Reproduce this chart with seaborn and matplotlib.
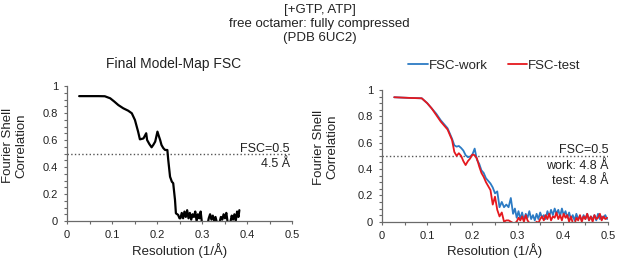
import pandas as pd
import matplotlib
matplotlib.use("Agg")
import matplotlib.pyplot as plt
from matplotlib.ticker import MultipleLocator
import seaborn as sns

sns.set_theme(style="ticks")
plt.rcParams['font.family'] = ['Liberation Sans', 'DejaVu Sans']

# Final model-map FSC (left panel)
map_res = [0.027, 0.05, 0.07, 0.084, 0.096, 0.105, 0.114, 0.125, 0.136, 0.144, 0.151,
           0.158, 0.162, 0.166, 0.170, 0.176, 0.178, 0.183, 0.188, 0.192, 0.196, 0.201,
           0.204, 0.207, 0.210, 0.214, 0.218, 0.223, 0.225, 0.229, 0.233, 0.236, 0.240,
           0.242, 0.247, 0.250,
           0.252, 0.255, 0.258, 0.261, 0.264, 0.267, 0.270, 0.273, 0.276, 0.279, 0.282,
           0.285, 0.288, 0.291, 0.294, 0.297, 0.300, 0.303, 0.306, 0.309, 0.312, 0.315,
           0.318, 0.321, 0.324, 0.327, 0.330, 0.333, 0.336, 0.339, 0.342, 0.345, 0.348,
           0.351, 0.354, 0.357, 0.360, 0.363, 0.366, 0.369, 0.372, 0.375, 0.378, 0.381,
           0.383]
map_fsc = [0.925, 0.925, 0.925, 0.924, 0.909, 0.885, 0.859, 0.835, 0.817, 0.798, 0.748,
           0.662, 0.605, 0.608, 0.612, 0.650, 0.600, 0.570, 0.546, 0.565, 0.588, 0.662,
           0.630, 0.600, 0.563, 0.540, 0.526, 0.526, 0.452, 0.328, 0.291, 0.280, 0.156,
           0.057, 0.045, 0.020,
           0.02, 0.06, 0.02, 0.07, 0.03, 0.08, 0.02, 0.06, 0.01, 0.05, 0.03,
           0.07, 0.00, 0.05, 0.02, 0.07, -0.02, -0.03, -0.01, -0.02, -0.03, 0.02,
           0.05, 0.01, 0.04, 0.00, 0.03, -0.01, -0.02, -0.01, 0.03, 0.01, 0.05,
           0.02, 0.06, -0.01, -0.02, -0.01, 0.04, 0.01, 0.05, 0.00, 0.07, 0.03,
           0.08]

# FSC-work / FSC-test (right panel)
cv_res = [0.027, 0.04, 0.06, 0.088, 0.1, 0.11, 0.12, 0.13, 0.14, 0.145, 0.15, 0.155,
          0.16, 0.165, 0.17, 0.175, 0.18, 0.185, 0.19, 0.195, 0.2, 0.205, 0.21, 0.215,
          0.22, 0.225, 0.23, 0.235, 0.24, 0.245, 0.25, 0.255, 0.26, 0.265, 0.27, 0.275,
          0.28, 0.285, 0.29,
          0.294, 0.298, 0.302, 0.306, 0.310, 0.314, 0.318, 0.322, 0.326, 0.330, 0.334,
          0.338, 0.342, 0.346, 0.350, 0.354, 0.358, 0.362, 0.366, 0.370, 0.374, 0.378,
          0.382, 0.386, 0.390, 0.394, 0.398, 0.402, 0.406, 0.410, 0.414, 0.418, 0.422,
          0.426, 0.430, 0.434, 0.438, 0.442, 0.446, 0.450, 0.454, 0.458, 0.462, 0.466,
          0.470, 0.474, 0.478, 0.482, 0.486, 0.490, 0.494, 0.498]
fsc_work = [0.945, 0.943, 0.94, 0.937, 0.9, 0.86, 0.82, 0.77, 0.73, 0.71, 0.67, 0.63,
            0.58, 0.57, 0.575, 0.56, 0.54, 0.505, 0.49, 0.495, 0.51, 0.555, 0.47, 0.44,
            0.39, 0.37, 0.33, 0.31, 0.29, 0.26, 0.215, 0.23, 0.11, 0.15, 0.11, 0.13,
            0.11, 0.18, 0.06,
            0.10, 0.03, 0.08, 0.02, 0.07, 0.01, 0.06, 0.03, 0.08, 0.02, 0.05,
            0.01, 0.06, 0.02, 0.07, 0.03, 0.05, 0.02, 0.08, 0.04, 0.09, 0.05,
            0.10, 0.06, 0.09, 0.04, 0.10, 0.05, 0.08, 0.03, 0.07, 0.02, 0.05,
            0.01, 0.06, 0.02, 0.04, 0.01, 0.05, 0.02, 0.06, 0.01, 0.04, 0.02,
            0.05, 0.01, 0.06, 0.02, 0.04, 0.03, 0.05, 0.02]
fsc_test = [0.945, 0.943, 0.94, 0.937, 0.9, 0.86, 0.81, 0.76, 0.72, 0.70, 0.66, 0.62,
            0.53, 0.50, 0.52, 0.50, 0.46, 0.43, 0.46, 0.48, 0.51, 0.505, 0.48, 0.42,
            0.37, 0.34, 0.30, 0.27, 0.24, 0.13, 0.19, 0.09, 0.04, 0.07, 0.00, 0.01,
            0.01, 0.00, -0.01,
            -0.01, 0.00, 0.03, 0.01, 0.04, 0.00, 0.05, 0.01, -0.01, -0.02, -0.01,
            -0.02, 0.00, -0.01, 0.02, 0.04, 0.01, 0.05, 0.02, 0.06, 0.01, 0.04,
            0.03, 0.07, 0.02, 0.05, 0.01, 0.06, 0.03, 0.05, 0.00, 0.04, -0.01,
            -0.02, 0.03, 0.01, 0.05, 0.00, 0.04, 0.02, 0.06, 0.01, 0.04, 0.00,
            0.05, 0.02, 0.03, 0.06, 0.01, 0.04, 0.02, 0.03]

map_df = pd.DataFrame({'res': map_res, 'fsc': map_fsc})
cv_df = pd.concat([
    pd.DataFrame({'res': cv_res, 'fsc': fsc_work, 'curve': 'FSC-work'}),
    pd.DataFrame({'res': cv_res, 'fsc': fsc_test, 'curve': 'FSC-test'}),
])

W, H = 617, 265
fig = plt.figure(figsize=(W / 100, H / 100), dpi=100)
ax1 = fig.add_axes([67 / W, 1 - 221 / H, 225 / W, 135 / H])
ax2 = fig.add_axes([382 / W, 1 - 221.7 / H, 226 / W, 131.7 / H])

sns.lineplot(data=map_df, x='res', y='fsc', ax=ax1, color='black', lw=1.6,
             sort=False, estimator=None)
sns.lineplot(data=cv_df, x='res', y='fsc', hue='curve', ax=ax2, lw=1.3,
             palette={'FSC-work': '#2c7bc4', 'FSC-test': '#e5181e'},
             sort=False, estimator=None, legend=False)

grey = '#6a6a6a'
for ax in (ax1, ax2):
    ax.set_xlim(0, 0.5)
    ax.set_ylim(0, 1)
    ax.xaxis.set_major_locator(MultipleLocator(0.1))
    ax.xaxis.set_minor_locator(MultipleLocator(0.05))
    ax.yaxis.set_major_locator(MultipleLocator(0.2))
    ax.yaxis.set_minor_locator(MultipleLocator(0.05))
    ax.xaxis.set_major_formatter(lambda v, p: f'{v:g}')
    ax.yaxis.set_major_formatter(lambda v, p: f'{v:g}')
    ax.tick_params(which='both', length=2.5, width=0.8, color=grey,
                   labelsize=8, labelcolor='#222222', pad=4)
    for s in ('top', 'right'):
        ax.spines[s].set_visible(False)
    for s in ('left', 'bottom'):
        ax.spines[s].set_color(grey)
        ax.spines[s].set_linewidth(0.9)
    ax.axhline(0.5, color='#555555', ls=':', lw=1.0, zorder=1)
    ax.set_xlabel('Resolution (1/Å)', fontsize=9.5, color='#222222')
    ax.set_ylabel('Fourier Shell\nCorrelation', fontsize=9.5, color='#222222',
                  linespacing=1.05)
    ax.xaxis.set_label_coords(0.5, -0.165)

ax1.yaxis.set_label_coords(-0.178, 0.56)
ax2.yaxis.set_label_coords(-0.195, 0.567)

ann = dict(fontsize=9, ha='right', va='baseline', color='#222222')
ax1.text(0.495, 0.513, 'FSC=0.5', **ann)
ax1.text(0.495, 0.398, '4.5 Å', **ann)
ax2.text(0.5, 0.52, 'FSC=0.5', **ann)
ax2.text(0.5, 0.398, 'work: 4.8 Å', **ann)
ax2.text(0.5, 0.284, 'test: 4.8 Å', **ann)

# legend above right panel
handles = [plt.Line2D([], [], color='#2c7bc4', lw=1.3),
           plt.Line2D([], [], color='#e5181e', lw=1.3)]
fig.legend(handles, ['FSC-work', 'FSC-test'], loc='center',
           bbox_to_anchor=(494.5 / W, 1 - 66 / H), ncol=2, frameon=False,
           fontsize=9.5, handlelength=1.45, handletextpad=0.1,
           columnspacing=1.5, borderpad=0)

fig.text(174 / W, 1 - 68.3 / H, 'Final Model-Map FSC', ha='center', va='baseline',
         fontsize=10, color='#222222')
for txt, base in [('[+GTP, ATP]', 12.5), ('free octamer: fully compressed', 26.5),
                  ('(PDB 6UC2)', 40.5)]:
    fig.text(319.5 / W, 1 - base / H, txt, ha='center', va='baseline',
             fontsize=9.5, color='#222222')

fig.savefig('out.png', dpi=100)
